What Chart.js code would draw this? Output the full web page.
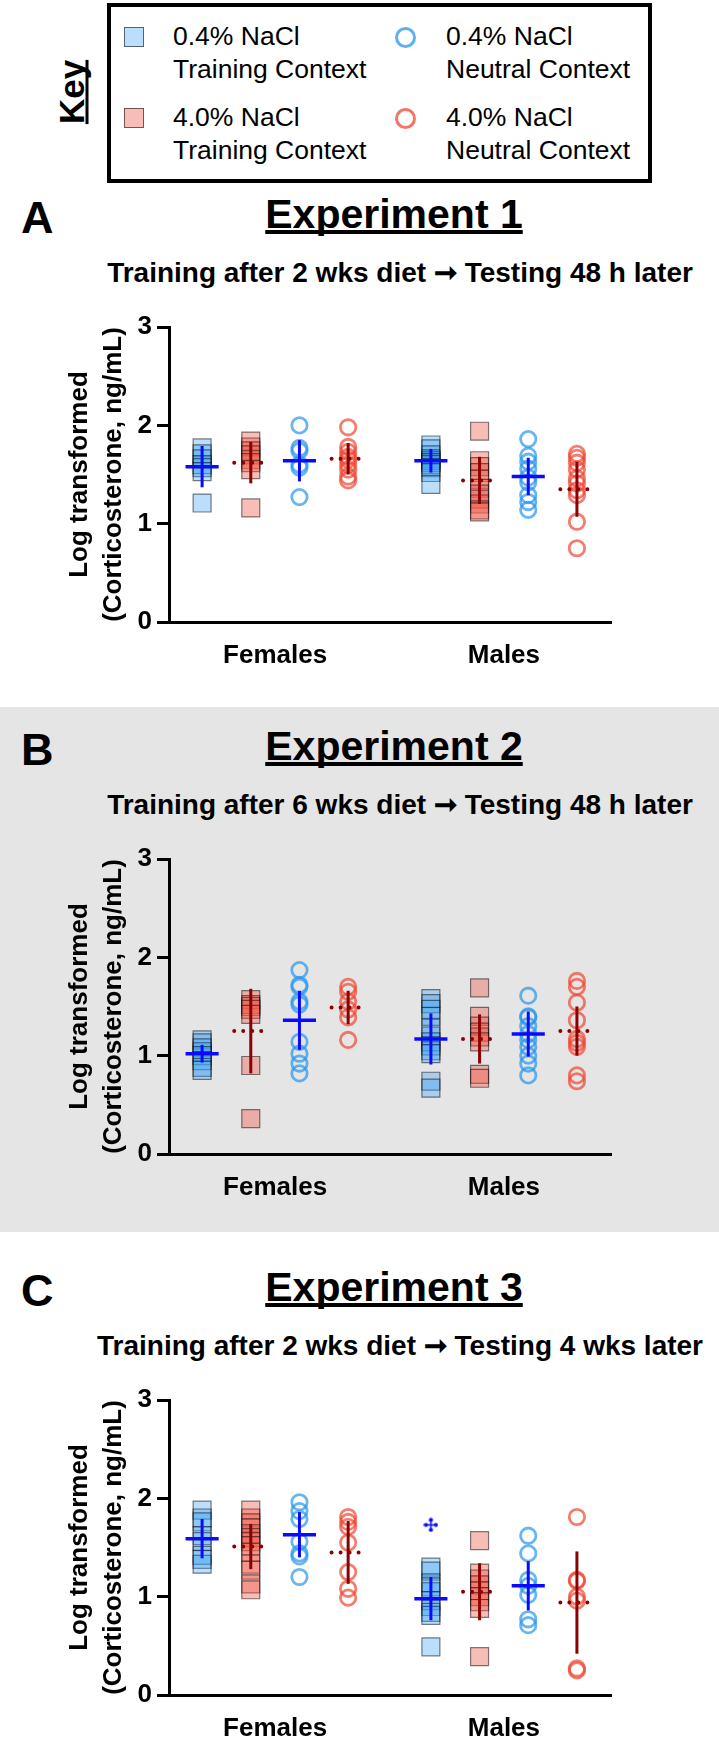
<!DOCTYPE html>
<html>
<head>
<meta charset="utf-8">
<script src="https://cdn.jsdelivr.net/npm/chart.js"></script>
<style>
  html, body { margin: 0; padding: 0; background: #fff; overflow: hidden; }
  body { width: 719px; height: 1739px; position: relative; font-family: "Liberation Sans", Arial, sans-serif; color: #000; }
  .abs { position: absolute; white-space: nowrap; }
  #keyBox { left: 107px; top: 3px; width: 545px; height: 180px; border: 4px solid #000; box-sizing: border-box; }
  #keyLabel { left: 71px; top: 92px; font-weight: bold; font-size: 35px; text-decoration: underline; text-decoration-thickness: 3px;
    text-decoration-skip-ink: none; transform: translate(-50%, -50%) rotate(-90deg); line-height: 35px; }
  .ktxt { font-size: 26.5px; line-height: 33px; }
  .ksq { width: 20px; height: 20px; box-sizing: border-box; border: 1.2px solid rgba(0,0,0,0.55); }
  .kci { width: 21px; height: 21px; box-sizing: border-box; border-radius: 50%; border: 3px solid; }
  .grey { left: 0; width: 719px; background: #e5e5e5; }
  .letter { font-weight: bold; font-size: 45px; line-height: 45px; }
  .title { font-weight: bold; font-size: 41px; line-height: 41px; text-decoration: underline; text-decoration-thickness: 4px;
    text-underline-offset: 2px; text-decoration-skip-ink: none; transform: translateX(-50%); }
  .sub { font-weight: bold; font-size: 28px; line-height: 28px; transform: translateX(-50%); }
  canvas.plot { position: absolute; left: 0; }
</style>
</head>
<body>
<div id="keyBox" class="abs"></div>
<div id="keyLabel" class="abs">Key</div>
<div class="abs ksq" style="left:124px;top:27px;background:rgba(60,160,245,0.35)"></div>
<div class="abs ktxt" style="left:173px;top:20px">0.4% NaCl<br>Training Context</div>
<div class="abs kci" style="left:395px;top:27px;border-color:rgba(40,150,240,0.75)"></div>
<div class="abs ktxt" style="left:446px;top:20px">0.4% NaCl<br>Neutral Context</div>
<div class="abs ksq" style="left:124px;top:108px;background:rgba(240,90,75,0.4)"></div>
<div class="abs ktxt" style="left:173px;top:101px">4.0% NaCl<br>Training Context</div>
<div class="abs kci" style="left:395px;top:108px;border-color:rgba(240,70,50,0.75)"></div>
<div class="abs ktxt" style="left:446px;top:101px">4.0% NaCl<br>Neutral Context</div>

<script>
// categories and labels
var groups = ['Females', 'Males'];
var yTicks = [0, 1, 2, 3];
var yTitle = ['Log transformed', '(Corticosterone, ng/mL)'];
var panelLetters = ['A', 'B', 'C'];
var expTitles = ['Experiment 1', 'Experiment 2', 'Experiment 3'];
var expSubtitles = [
    'Training after 2 wks diet \u279E Testing 48 h later',
    'Training after 6 wks diet \u279E Testing 48 h later',
    'Training after 2 wks diet \u279E Testing 4 wks later'
];

// Experiment 1 - each list is [females, males]
var e1Train04 = [[1.77, 1.71, 1.66, 1.60, 1.57, 1.53, 1.21], [1.80, 1.76, 1.70, 1.66, 1.64, 1.62, 1.60, 1.57, 1.52, 1.40]];
var e1Train40 = [[1.84, 1.78, 1.74, 1.70, 1.65, 1.62, 1.55, 1.16], [1.94, 1.64, 1.58, 1.52, 1.45, 1.36, 1.30, 1.25, 1.20, 1.14, 1.12]];
var e1Neut04 = [[2.00, 1.77, 1.74, 1.60, 1.57, 1.27], [1.86, 1.69, 1.63, 1.56, 1.47, 1.42, 1.29, 1.22, 1.14]];
var e1Neut40 = [[1.98, 1.78, 1.73, 1.68, 1.65, 1.60, 1.55, 1.48, 1.44], [1.71, 1.67, 1.62, 1.55, 1.46, 1.41, 1.34, 1.29, 1.02, 0.75]];
// mean and error per column: train 0.4, train 4.0, neutral 0.4, neutral 4.0
var e1Mean = [[1.58, 1.62, 1.64, 1.66], [1.64, 1.44, 1.48, 1.35]];
var e1Err = [[0.21, 0.21, 0.21, 0.16], [0.12, 0.24, 0.19, 0.28]];
var e1Outliers = [[], []];

// Experiment 2
var e2Train04 = [[1.16, 1.13, 1.08, 1.04, 1.00, 0.95, 0.88, 0.85], [1.58, 1.53, 1.47, 1.40, 1.28, 1.20, 1.14, 1.10, 1.05, 1.02, 0.74, 0.67]];
var e2Train40 = [[1.57, 1.52, 1.50, 1.47, 1.42, 0.90, 0.36], [1.69, 1.40, 1.30, 1.24, 1.19, 1.14, 0.81, 0.77]];
var e2Neut04 = [[1.87, 1.72, 1.70, 1.55, 1.52, 1.14, 1.02, 0.92, 0.82], [1.61, 1.40, 1.39, 1.30, 1.22, 1.16, 1.09, 1.00, 0.92, 0.80]];
var e2Neut40 = [[1.70, 1.65, 1.55, 1.47, 1.39, 1.16], [1.76, 1.70, 1.54, 1.36, 1.17, 1.13, 1.09, 0.80, 0.74]];
var e2Mean = [[1.02, 1.25, 1.36, 1.49], [1.17, 1.17, 1.22, 1.25]];
var e2Err = [[0.09, 0.43, 0.30, 0.17], [0.26, 0.25, 0.23, 0.25]];
var e2Outliers = [[], []];

// Experiment 3
var e3Train04 = [[1.88, 1.80, 1.76, 1.62, 1.56, 1.42, 1.38, 1.33], [1.30, 1.26, 1.14, 1.10, 1.05, 0.96, 0.90, 0.84, 0.81, 0.49]];
var e3Train40 = [[1.88, 1.80, 1.75, 1.70, 1.64, 1.60, 1.56, 1.52, 1.45, 1.33, 1.27, 1.13, 1.07], [1.57, 1.24, 1.18, 1.12, 1.06, 1.00, 0.95, 0.88, 0.39]];
var e3Neut04 = [[1.96, 1.87, 1.79, 1.56, 1.44, 1.41, 1.20], [1.62, 1.44, 1.17, 1.11, 1.02, 0.77, 0.71]];
var e3Neut40 = [[1.81, 1.76, 1.71, 1.55, 1.25, 1.08, 0.99], [1.81, 1.17, 1.16, 1.00, 0.96, 0.27, 0.25]];
var e3Mean = [[1.59, 1.51, 1.63, 1.45], [0.98, 1.05, 1.11, 0.94]];
var e3Err = [[0.20, 0.23, 0.23, 0.32], [0.22, 0.29, 0.25, 0.52]];
var e3Outliers = [[], [1.73]]; // flagged point, 0.4% training context

var panels = [
    { pts: [e1Train04, e1Train40, e1Neut04, e1Neut40], mean: e1Mean, err: e1Err, out: e1Outliers },
    { pts: [e2Train04, e2Train40, e2Neut04, e2Neut40], mean: e2Mean, err: e2Err, out: e2Outliers },
    { pts: [e3Train04, e3Train40, e3Neut04, e3Neut40], mean: e3Mean, err: e3Err, out: e3Outliers }
];

// layout
var panelShift = [0, 532, 1073];
var GROUP_GAP = 4.7;
var X_MIN = -0.68, X_MAX = 8.4;
var FONT = '"Liberation Sans", Arial, sans-serif';
var BLUE = '#0a0aff', DARKRED = '#8b0000';

var condStyles = [
    { style: 'rect', radius: 12.7, fill: 'rgba(60,160,245,0.35)', line: 'rgba(0,0,0,0.5)', width: 1.2, mean: BLUE, dotted: false },
    { style: 'rect', radius: 12.7, fill: 'rgba(240,90,75,0.4)', line: 'rgba(0,0,0,0.5)', width: 1.2, mean: DARKRED, dotted: true },
    { style: 'circle', radius: 7.7, fill: 'rgba(0,0,0,0)', line: 'rgba(40,150,240,0.7)', width: 2.8, mean: BLUE, dotted: false },
    { style: 'circle', radius: 7.7, fill: 'rgba(0,0,0,0)', line: 'rgba(240,70,50,0.7)', width: 2.8, mean: DARKRED, dotted: true }
];

function colX(g, k) { return g * GROUP_GAP + k; }

function outlierMark() {
    var c = document.createElement('canvas');
    c.width = 15; c.height = 15;
    var g = c.getContext('2d');
    g.strokeStyle = BLUE; g.fillStyle = BLUE; g.lineWidth = 1.5;
    g.beginPath(); g.moveTo(7.5, 2.5); g.lineTo(7.5, 12.5); g.moveTo(2.5, 7.5); g.lineTo(12.5, 7.5); g.stroke();
    [[7.5, 2.5], [7.5, 12.5], [2.5, 7.5], [12.5, 7.5]].forEach(function (p) {
        g.beginPath(); g.arc(p[0], p[1], 2.1, 0, Math.PI * 2); g.fill();
    });
    return c;
}
var outMark = outlierMark();

function addText(cls, text, left, top) {
    var d = document.createElement('div');
    d.className = 'abs ' + cls;
    d.textContent = text;
    d.style.left = left + 'px';
    d.style.top = top + 'px';
    document.body.appendChild(d);
    return d;
}

panels.forEach(function (p, pi) {
    var dy = panelShift[pi];
    if (pi === 1) {
        var bg = document.createElement('div');
        bg.className = 'abs grey';
        bg.style.top = (175 + dy) + 'px';
        bg.style.height = '525px';
        document.body.appendChild(bg);
    }
    addText('letter', panelLetters[pi], 21, 195 + dy);
    addText('title', expTitles[pi], 394, 193.5 + dy);
    addText('sub', expSubtitles[pi], 400, 258.5 + dy);

    var cv = document.createElement('canvas');
    cv.className = 'plot';
    cv.width = 719; cv.height = 380;
    cv.style.top = (300 + dy) + 'px';
    document.body.appendChild(cv);

    var ds = [];
    // mean lines and error bars on top
    for (var g = 0; g < groups.length; g++) {
        for (var k = 0; k < 4; k++) {
            var st = condStyles[k], cx = colX(g, k), m = p.mean[g][k], e = p.err[g][k];
            ds.push({
                data: [{ x: cx - 0.34, y: m }, { x: cx + 0.34, y: m }],
                showLine: true, pointRadius: 0, borderColor: st.mean,
                borderWidth: st.dotted ? 4 : 3.5,
                borderDash: st.dotted ? [0, 9] : [],
                borderCapStyle: st.dotted ? 'round' : 'butt'
            });
            ds.push({
                data: [{ x: cx, y: m - e }, { x: cx, y: m + e }],
                showLine: true, pointRadius: 0, borderColor: st.mean, borderWidth: 3
            });
        }
    }
    ds.push({
        data: p.out.flatMap(function (vals, g) { return vals.map(function (v) { return { x: colX(g, 0), y: v }; }); }),
        pointStyle: outMark, pointRadius: 7
    });
    p.pts.forEach(function (cond, k) {
        var st = condStyles[k];
        ds.push({
            data: cond.flatMap(function (vals, g) { return vals.map(function (v) { return { x: colX(g, k), y: v }; }); }),
            pointStyle: st.style, pointRadius: st.radius,
            backgroundColor: st.fill, borderColor: st.line, borderWidth: st.width
        });
    });

    new Chart(cv, {
        type: 'scatter',
        data: { datasets: ds },
        options: {
            responsive: false,
            animation: false,
            devicePixelRatio: 1,
            events: [],
            layout: { padding: { top: 27, right: 108, bottom: 0, left: 0 } },
            plugins: { legend: { display: false }, tooltip: { enabled: false } },
            scales: {
                x: {
                    type: 'linear', min: X_MIN, max: X_MAX,
                    afterFit: function (s) { s.height = 58; },
                    afterBuildTicks: function (s) {
                        s.ticks = groups.map(function (n, i) { return { value: colX(i, 1.5) }; });
                    },
                    grid: { display: false, drawTicks: false },
                    border: { display: true, color: '#000', width: 3 },
                    ticks: {
                        autoSkip: false, maxRotation: 0, padding: 18, color: '#000',
                        font: { family: FONT, size: 26, weight: 'bold' },
                        callback: function (v, i) { return groups[i]; }
                    }
                },
                y: {
                    min: 0, max: 3,
                    afterFit: function (s) { s.width = 169; },
                    afterBuildTicks: function (s) {
                        s.ticks = yTicks.map(function (v) { return { value: v }; });
                    },
                    grid: { drawOnChartArea: false, drawTicks: true, tickLength: 12, tickWidth: 3, tickColor: '#000' },
                    border: { display: true, color: '#000', width: 3 },
                    ticks: { padding: 5, color: '#000', font: { family: FONT, size: 26, weight: 'bold' } },
                    title: {
                        display: true, text: yTitle, color: '#000',
                        font: { family: FONT, size: 26, weight: 'bold', lineHeight: 1.3 },
                        padding: { top: 63, bottom: 0 }
                    }
                }
            }
        }
    });
});
</script>
</body>
</html>
